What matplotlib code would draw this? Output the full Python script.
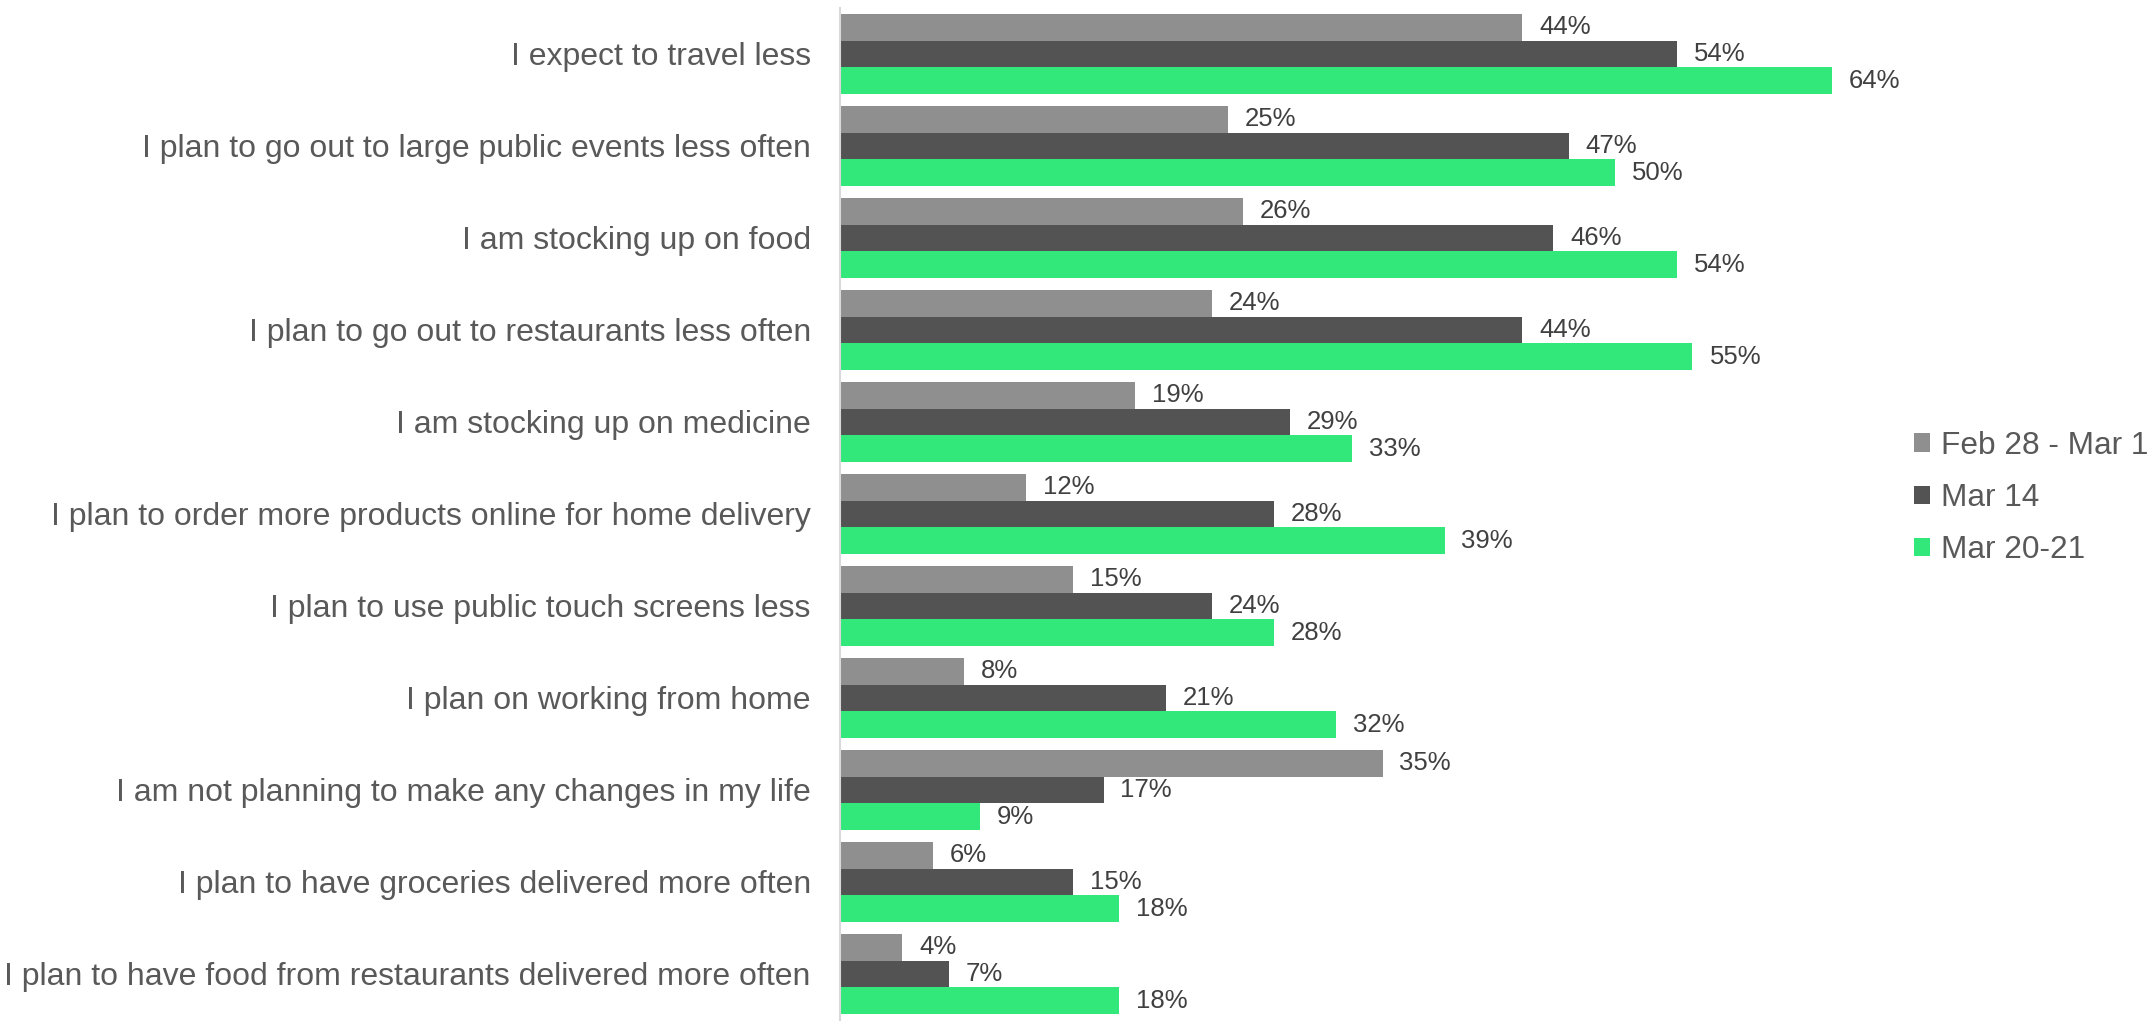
import matplotlib
matplotlib.use("Agg")
import matplotlib.pyplot as plt
from matplotlib.patches import Patch
import numpy as np

plt.rcParams['font.family'] = ['Liberation Sans', 'DejaVu Sans']

categories = [
    "I expect to travel less",
    "I plan to go out to large public events less often",
    "I am stocking up on food",
    "I plan to go out to restaurants less often",
    "I am stocking up on medicine",
    "I plan to order more products online for home delivery",
    "I plan to use public touch screens less",
    "I plan on working from home",
    "I am not planning to make any changes in my life",
    "I plan to have groceries delivered more often",
    "I plan to have food from restaurants delivered more often",
]
series_names = ["Feb 28 - Mar 1", "Mar 14", "Mar 20-21"]
feb28_mar1 = [44, 25, 26, 24, 19, 12, 15, 8, 35, 6, 4]
mar14 = [54, 47, 46, 44, 29, 28, 24, 21, 17, 15, 7]
mar20_21 = [64, 50, 54, 55, 33, 39, 28, 32, 9, 18, 18]

colors = ["#8f8f8f", "#535353", "#33e87a"]
label_color = "#595959"
value_color = "#404040"

W, H = 2152, 1023
fig = plt.figure(figsize=(W / 100, H / 100), dpi=100)
ax = fig.add_axes([840 / W, 3 / H, (15.5 * 70) / W, 1012 / H])

y = np.arange(len(categories))
bh = 0.29
offsets = [-bh, 0.0, bh]
for vals, off, col, name in zip([feb28_mar1, mar14, mar20_21], offsets, colors, series_names):
    ax.barh(y + off, vals, height=bh, color=col, edgecolor="none", label=name)
    for yi, v in zip(y + off, vals):
        ax.annotate(f"{v}%", xy=(v, yi), xytext=(17, 0), textcoords="offset pixels",
                    ha="left", va="center", fontsize=18.5, color=value_color)

ax.set_xlim(0, 70)
ax.set_ylim(len(categories) - 0.5, -0.5)
ax.set_yticks(y)
ax.set_yticklabels(categories, fontsize=23.0, color=label_color)
ax.tick_params(axis="y", length=0, pad=21)
ax.set_xticks([])
for s in ["top", "right", "bottom"]:
    ax.spines[s].set_visible(False)
ax.spines["left"].set_color("#d9d9d9")
ax.spines["left"].set_linewidth(1.5)

# Legend sits to the right of the bars, centred vertically on the middle rows
handles = [Patch(facecolor=c, edgecolor="none") for c in colors]
fig.legend(handles, series_names, loc="center left", bbox_to_anchor=(1914 / W, 1 - 498 / H),
           frameon=False, fontsize=22.8, labelcolor=label_color,
           handlelength=0.52, handleheight=0.52, handletextpad=0.32, labelspacing=0.70,
           borderaxespad=0, borderpad=0)

fig.savefig("out.png", dpi=100)
